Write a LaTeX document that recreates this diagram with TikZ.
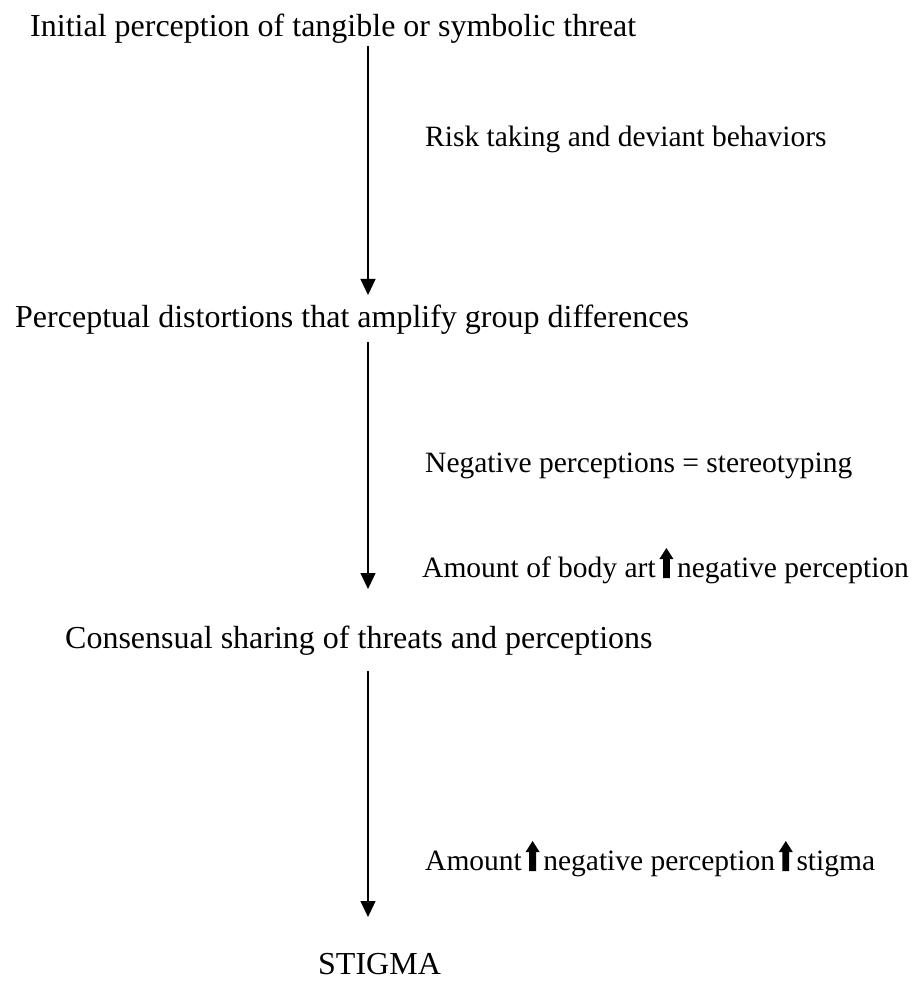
\documentclass[tikz,border=0pt]{standalone}
\usepackage{fontspec}
\setmainfont{Liberation Serif}
\usetikzlibrary{arrows.meta}
\begin{document}
\begin{tikzpicture}[x=1pt,y=1pt,
  mainlbl/.style={inner sep=0pt, anchor=base west, font=\fontsize{32}{38}\selectfont},
  sidelbl/.style={inner sep=0pt, anchor=base west, font=\fontsize{29.5}{35}\selectfont},
  flow/.style={line width=1.2pt, -{Triangle[length=16pt,width=15pt]}},
  uparrow/.pic={\fill (-3.4,-1) -- (-3.4,18) -- (-7,18) -- (0,29) -- (7,18) -- (3.4,18) -- (3.4,-1) -- cycle;}
]
\useasboundingbox (0,0) rectangle (917,-981);

% main stages
\node[mainlbl] (t1) at (30,-37) {Initial perception of tangible or symbolic threat};
\node[mainlbl] (t2) at (15,-327) {Perceptual distortions that amplify group differences};
\node[mainlbl] (t3) at (65,-648) {Consensual sharing of threats and perceptions};
\node[mainlbl] (t4) at (318,-974) {STIGMA};

% connectors
\coordinate (s1) at (368,-46);  \coordinate (e1) at (368,-295);
\coordinate (s2) at (368,-342); \coordinate (e2) at (368,-589);
\coordinate (s3) at (368,-671); \coordinate (e3) at (368,-917);
\draw[flow] (s1) -- (e1);
\draw[flow] (s2) -- (e2);
\draw[flow] (s3) -- (e3);

% side labels
\node[sidelbl] (r1) at (425,-147) {Risk taking and deviant behaviors};
\node[sidelbl] (n1) at (425,-472) {Negative perceptions = stereotyping};

\node[sidelbl] (a1) at (422,-577) {Amount of body art};
\pic at ([xshift=10.5pt]a1.base east) {uparrow};
\node[sidelbl] (a2) at ([xshift=21pt]a1.base east) {negative perception};

\node[sidelbl] (b1) at (425,-870) {Amount};
\pic at ([xshift=10.5pt]b1.base east) {uparrow};
\node[sidelbl] (b2) at ([xshift=21pt]b1.base east) {negative perception};
\pic at ([xshift=10.5pt]b2.base east) {uparrow};
\node[sidelbl] (b3) at ([xshift=21pt]b2.base east) {stigma};
\end{tikzpicture}
\end{document}
